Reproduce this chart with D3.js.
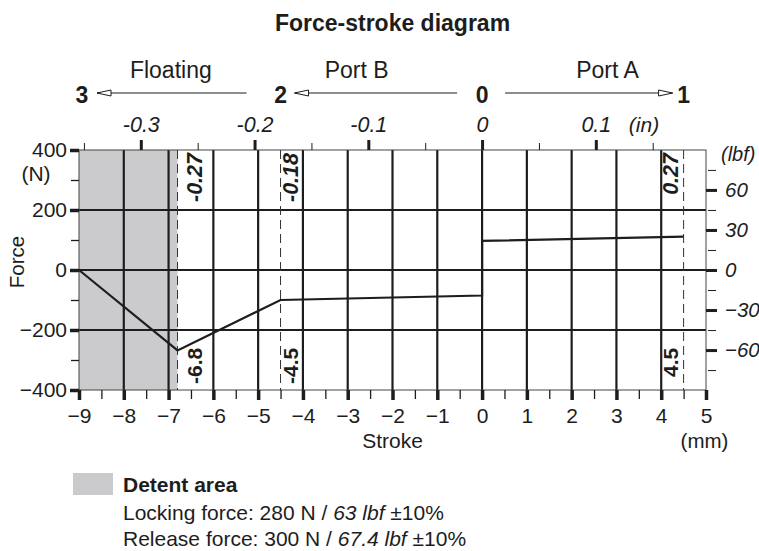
<!DOCTYPE html>
<html>
<head>
<meta charset="utf-8">
<script src="https://cdn.jsdelivr.net/npm/d3@7"></script>
<style>
  body { margin: 0; background: #fff; }
  svg { display: block; font-family: "Liberation Sans", Arial, Helvetica, sans-serif; }
</style>
</head>
<body>
<svg id="chart" width="759" height="551"></svg>
<script>
// Force-stroke curve (stroke in mm, force in N)
const strokeMm = [-9, -6.8, -4.5, 0, 0, 4.5];
const forceN = [0, -268, -100, -85, 97, 111];

// Detent (grey) zone along the stroke axis
const detentMm = [-9, -6.8];

// Dashed reference positions with their inch / mm annotations
const refMm = [-6.8, -4.5, 4.5];
const refInLabels = ["-0.27", "-0.18", "0.27"];
const refMmLabels = ["-6.8", "-4.5", "4.5"];

// Axis tick values
const xTicksMm = [-9, -8, -7, -6, -5, -4, -3, -2, -1, 0, 1, 2, 3, 4, 5];
const yTicksN = [-400, -200, 0, 200, 400];
const xTicksIn = [-0.3, -0.2, -0.1, 0, 0.1];
const yTicksLbf = [-60, -30, 0, 30, 60];

// Switching positions and the regions between them
const positionLabels = ["3", "2", "0", "1"];
const positionMm = [-9, -4.5, 0, 4.5];
const regionLabels = ["Floating", "Port B", "Port A"];
const regionMm = [-6.95, -2.8, 2.8];

// Legend text
const legendTitle = "Detent area";
const lockingN = 280, lockingLbf = "63";
const releaseN = 300, releaseLbf = "67.4";

const MM_PER_IN = 25.4;
const N_PER_LBF = 4.44822;

const svg = d3.select("#chart");
const ink = "#1d1d1d";

const x = d3.scaleLinear().domain([-9, 5]).range([79, 706]);
const y = d3.scaleLinear().domain([-400, 400]).range([390, 150]);
const xIn = d3.scaleLinear().domain(x.domain().map(v => v / MM_PER_IN)).range(x.range());
const yLbf = d3.scaleLinear().domain(y.domain().map(v => v / N_PER_LBF)).range(y.range());

const minus = s => s.replace("-", "\u2212");
const plotMid = (x.range()[0] + x.range()[1]) / 2;

// Title
svg.append("text")
  .attr("x", plotMid).attr("y", 31)
  .attr("text-anchor", "middle")
  .attr("font-size", 23).attr("font-weight", "bold").attr("fill", ink)
  .text("Force-stroke diagram");

// Detent area
svg.append("rect")
  .attr("x", x(detentMm[0])).attr("y", y(400))
  .attr("width", x(detentMm[1]) - x(detentMm[0]))
  .attr("height", y(-400) - y(400))
  .attr("fill", "#cbcbcd");

// Grid
const grid = svg.append("g").attr("stroke", ink).attr("stroke-width", 2.2);
grid.selectAll("line.v").data(xTicksMm.filter(d => d > -9 && d < 5)).join("line")
  .attr("class", "v")
  .attr("x1", d => x(d)).attr("x2", d => x(d))
  .attr("y1", y(400)).attr("y2", y(-400));
grid.selectAll("line.h").data([-200, 0, 200]).join("line")
  .attr("class", "h")
  .attr("x1", x(-9)).attr("x2", x(5))
  .attr("y1", d => y(d)).attr("y2", d => y(d));

// Frame
svg.append("rect")
  .attr("x", x(-9)).attr("y", y(400))
  .attr("width", x(5) - x(-9)).attr("height", y(-400) - y(400))
  .attr("fill", "none").attr("stroke", "#444").attr("stroke-width", 1);

// Dashed reference lines
svg.append("g").selectAll("line").data(refMm).join("line")
  .attr("x1", d => x(d)).attr("x2", d => x(d))
  .attr("y1", y(400)).attr("y2", y(-400))
  .attr("stroke", "#333").attr("stroke-width", 1)
  .attr("stroke-dasharray", "9,5");

// Rotated annotations beside the dashed lines
const refOffset = [24, 17.5, -5.5];
refMm.forEach((m, i) => {
  const bx = x(m) + refOffset[i];
  svg.append("text")
    .attr("transform", `translate(${bx},153) rotate(-90)`)
    .attr("text-anchor", "end")
    .attr("font-size", 21.5).attr("font-weight", "bold").attr("font-style", "italic")
    .attr("fill", ink)
    .text(refInLabels[i]);
  svg.append("text")
    .attr("transform", `translate(${bx},${i === 2 ? 377 : 384}) rotate(-90)`)
    .attr("text-anchor", "start")
    .attr("font-size", 21).attr("font-weight", "bold")
    .attr("fill", ink)
    .text(refMmLabels[i]);
});

// Force curve
const pts = strokeMm.map((s, i) => [s, forceN[i]]);
svg.append("path")
  .datum(pts)
  .attr("d", d3.line().x(d => x(d[0])).y(d => y(d[1])))
  .attr("fill", "none").attr("stroke", ink).attr("stroke-width", 2.2)
  .attr("stroke-linejoin", "miter");

// Axis helper: strips the domain and styles ticks and labels
function styleAxis(g, width, fontSize, italic) {
  g.select(".domain").remove();
  g.selectAll(".tick line").attr("stroke", ink).attr("stroke-width", width);
  g.selectAll(".tick text")
    .attr("fill", ink).attr("font-size", fontSize)
    .attr("font-family", "Liberation Sans, Arial, sans-serif")
    .attr("font-style", italic ? "italic" : null);
}

// Bottom axis (mm)
svg.append("g").attr("transform", `translate(0,${y(-400)})`)
  .call(d3.axisBottom(x).tickValues(d3.range(-8.5, 5, 1)).tickSize(9).tickFormat(""))
  .call(g => styleAxis(g, 1.3, 21, false));
svg.append("g").attr("transform", `translate(0,${y(-400)})`)
  .call(d3.axisBottom(x).tickValues(xTicksMm).tickSize(10).tickPadding(8)
    .tickFormat(d => minus(String(d))))
  .call(g => styleAxis(g, 3.5, 21, false));

// Left axis (N)
svg.append("g").attr("transform", `translate(${x(-9)},0)`)
  .call(d3.axisLeft(y).tickValues([-300, -100, 100, 300]).tickSize(8).tickFormat(""))
  .call(g => styleAxis(g, 1.3, 21, false));
svg.append("g").attr("transform", `translate(${x(-9)},0)`)
  .call(d3.axisLeft(y).tickValues(yTicksN).tickSize(9).tickPadding(3)
    .tickFormat(d => minus(String(d))))
  .call(g => styleAxis(g, 3.5, 21, false));

// Top axis (in)
svg.append("g").attr("transform", `translate(0,${y(400)})`)
  .call(d3.axisTop(xIn).tickValues([-0.35, -0.25, -0.15, -0.05, 0.05, 0.15]).tickSize(7).tickFormat(""))
  .call(g => styleAxis(g, 1, 21, true));
svg.append("g").attr("transform", `translate(0,${y(400)})`)
  .call(d3.axisTop(xIn).tickValues(xTicksIn).tickSize(10).tickPadding(8)
    .tickFormat(d => String(d)))
  .call(g => styleAxis(g, 3, 21.5, true));

// Right axis (lbf)
svg.append("g").attr("transform", `translate(${x(5)},0)`)
  .call(d3.axisRight(yLbf).tickValues([-75, -45, -15, 15, 45, 75]).tickSize(10).tickFormat(""))
  .call(g => styleAxis(g, 1, 21, true))
  .call(g => g.selectAll(".tick line").attr("x1", 2));
svg.append("g").attr("transform", `translate(${x(5)},0)`)
  .call(d3.axisRight(yLbf).tickValues(yTicksLbf).tickSize(11).tickPadding(8)
    .tickFormat(d => minus(String(d))))
  .call(g => styleAxis(g, 3, 20.5, true));

// Unit / axis titles
svg.append("text").attr("x", 36).attr("y", 181).attr("text-anchor", "middle")
  .attr("font-size", 21).attr("fill", ink).text("(N)");
svg.append("text").attr("transform", "translate(24,262) rotate(-90)")
  .attr("text-anchor", "middle").attr("font-size", 20.5).attr("fill", ink).text("Force");
svg.append("text").attr("x", 721).attr("y", 161)
  .attr("font-size", 20).attr("font-style", "italic").attr("fill", ink).text("(lbf)");
svg.append("text").attr("x", 644).attr("y", 132).attr("text-anchor", "middle")
  .attr("font-size", 21).attr("font-style", "italic").attr("fill", ink).text("(in)");
svg.append("text").attr("x", plotMid).attr("y", 448).attr("text-anchor", "middle")
  .attr("font-size", 21).attr("fill", ink).text("Stroke");
svg.append("text").attr("x", 704.5).attr("y", 448).attr("text-anchor", "middle")
  .attr("font-size", 20.5).attr("fill", ink).text("(mm)");

// Switching positions with arrows
const defs = svg.append("defs");
defs.append("marker")
  .attr("id", "openArrow").attr("viewBox", "0 0 16 8")
  .attr("refX", 15).attr("refY", 4)
  .attr("markerUnits", "userSpaceOnUse")
  .attr("markerWidth", 16).attr("markerHeight", 8)
  .attr("orient", "auto")
  .append("path").attr("d", "M1,1 L15,4 L1,7 Z")
  .attr("fill", "#fff").attr("stroke", ink).attr("stroke-width", 1);

const posX = positionMm.map(m => x(m));
svg.append("g").selectAll("text").data(positionLabels).join("text")
  .attr("x", (d, i) => posX[i] + (i === 0 ? 3 : 0))
  .attr("y", 103)
  .attr("text-anchor", "middle")
  .attr("font-size", 23).attr("font-weight", "bold").attr("fill", ink)
  .text(d => d);

const arrows = [
  { from: posX[1] - 34, to: posX[0] + 18 },
  { from: posX[2] - 25, to: posX[1] + 14 },
  { from: posX[2] + 23, to: posX[3] - 11 }
];
svg.append("g").selectAll("line").data(arrows).join("line")
  .attr("x1", d => d.from).attr("x2", d => d.to)
  .attr("y1", 93).attr("y2", 93)
  .attr("stroke", ink).attr("stroke-width", 1)
  .attr("marker-end", "url(#openArrow)");

svg.append("g").selectAll("text").data(regionLabels).join("text")
  .attr("x", (d, i) => x(regionMm[i])).attr("y", 78)
  .attr("text-anchor", "middle")
  .attr("font-size", 23).attr("fill", ink)
  .text(d => d);

// Legend
svg.append("rect").attr("x", 73).attr("y", 473).attr("width", 40).attr("height", 22)
  .attr("fill", "#cbcbcd");
svg.append("text").attr("x", 123).attr("y", 492)
  .attr("font-size", 21).attr("font-weight", "bold").attr("fill", ink).text(legendTitle);

function legendLine(yPos, label, n, lbf) {
  const t = svg.append("text").attr("x", 123).attr("y", yPos)
    .attr("font-size", 21).attr("fill", ink);
  t.append("tspan").text(`${label}: ${n} N / `);
  t.append("tspan").attr("font-style", "italic").text(`${lbf} lbf`);
  t.append("tspan").text(" \u00B110%");
}
legendLine(520, "Locking force", lockingN, lockingLbf);
legendLine(546, "Release force", releaseN, releaseLbf);
</script>
</body>
</html>
